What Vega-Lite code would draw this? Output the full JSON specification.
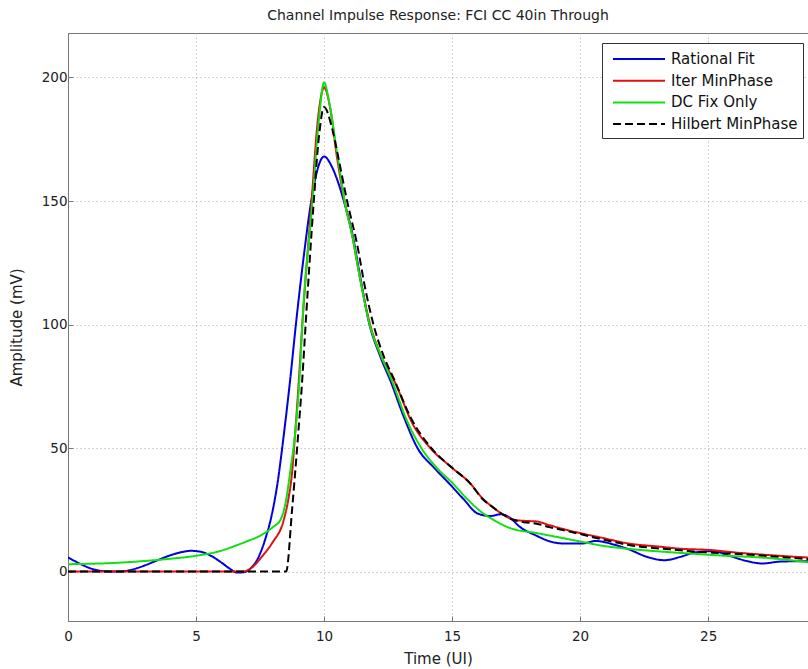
{
  "$schema": "https://vega.github.io/schema/vega-lite/v6.json",
  "width": 740,
  "height": 588,
  "autosize": {"type": "none"},
  "padding": {"left": 68, "top": 33, "right": 0, "bottom": 48},
  "background": "white",
  "title": {
    "text": "Channel Impulse Response: FCI CC 40in Through",
    "font": "DejaVu Sans",
    "fontSize": 14,
    "fontWeight": "normal",
    "color": "#222222",
    "offset": 10,
    "anchor": "middle"
  },
  "config": {
    "view": {"stroke": "#777777", "strokeWidth": 1},
    "axis": {
      "labelFont": "DejaVu Sans",
      "labelFontSize": 13.5,
      "labelColor": "#222222",
      "titleFont": "DejaVu Sans",
      "titleFontSize": 15,
      "titleFontWeight": "normal",
      "titleColor": "#222222",
      "domainColor": "#777777",
      "tickColor": "#777777",
      "gridColor": "#a8a8a8",
      "gridDash": [1, 3],
      "gridOpacity": 1,
      "gridWidth": 1
    }
  },
  "data": {
    "values": [
      {"series": "Rational Fit", "t": 0, "v": 5.8},
      {"series": "Rational Fit", "t": 0.5, "v": 3.0},
      {"series": "Rational Fit", "t": 1.0, "v": 0.9},
      {"series": "Rational Fit", "t": 1.5, "v": 0.1},
      {"series": "Rational Fit", "t": 2.0, "v": 0.0},
      {"series": "Rational Fit", "t": 2.5, "v": 0.8},
      {"series": "Rational Fit", "t": 3.0, "v": 2.5},
      {"series": "Rational Fit", "t": 3.5, "v": 4.6},
      {"series": "Rational Fit", "t": 4.0, "v": 6.6},
      {"series": "Rational Fit", "t": 4.5, "v": 8.0},
      {"series": "Rational Fit", "t": 4.8, "v": 8.4},
      {"series": "Rational Fit", "t": 5.2, "v": 8.0},
      {"series": "Rational Fit", "t": 5.6, "v": 6.3},
      {"series": "Rational Fit", "t": 6.0, "v": 3.6},
      {"series": "Rational Fit", "t": 6.3, "v": 1.3},
      {"series": "Rational Fit", "t": 6.6, "v": -0.4},
      {"series": "Rational Fit", "t": 6.9, "v": -0.2},
      {"series": "Rational Fit", "t": 7.1, "v": 1.0},
      {"series": "Rational Fit", "t": 7.4, "v": 5},
      {"series": "Rational Fit", "t": 7.7, "v": 13},
      {"series": "Rational Fit", "t": 8.0, "v": 25},
      {"series": "Rational Fit", "t": 8.2, "v": 37},
      {"series": "Rational Fit", "t": 8.4, "v": 53},
      {"series": "Rational Fit", "t": 8.68, "v": 78},
      {"series": "Rational Fit", "t": 8.9, "v": 100},
      {"series": "Rational Fit", "t": 9.2, "v": 127},
      {"series": "Rational Fit", "t": 9.5, "v": 150},
      {"series": "Rational Fit", "t": 9.7, "v": 161},
      {"series": "Rational Fit", "t": 10.0, "v": 168},
      {"series": "Rational Fit", "t": 10.3, "v": 164},
      {"series": "Rational Fit", "t": 10.5, "v": 159},
      {"series": "Rational Fit", "t": 10.8, "v": 149},
      {"series": "Rational Fit", "t": 11.1, "v": 137},
      {"series": "Rational Fit", "t": 11.4, "v": 120},
      {"series": "Rational Fit", "t": 11.75, "v": 101},
      {"series": "Rational Fit", "t": 12.2, "v": 87},
      {"series": "Rational Fit", "t": 12.62, "v": 76.5},
      {"series": "Rational Fit", "t": 13.1, "v": 63},
      {"series": "Rational Fit", "t": 13.65, "v": 50},
      {"series": "Rational Fit", "t": 14.3, "v": 42},
      {"series": "Rational Fit", "t": 14.9, "v": 35.5},
      {"series": "Rational Fit", "t": 15.45, "v": 29.3},
      {"series": "Rational Fit", "t": 16.0, "v": 23.5},
      {"series": "Rational Fit", "t": 16.5, "v": 22.5},
      {"series": "Rational Fit", "t": 16.9, "v": 23.2},
      {"series": "Rational Fit", "t": 17.3, "v": 21.5},
      {"series": "Rational Fit", "t": 17.6, "v": 18.5},
      {"series": "Rational Fit", "t": 18.3, "v": 14.5},
      {"series": "Rational Fit", "t": 18.8, "v": 12.3},
      {"series": "Rational Fit", "t": 19.3, "v": 11.4},
      {"series": "Rational Fit", "t": 20.1, "v": 11.4},
      {"series": "Rational Fit", "t": 20.6, "v": 12.4},
      {"series": "Rational Fit", "t": 21.3, "v": 11},
      {"series": "Rational Fit", "t": 21.9, "v": 9},
      {"series": "Rational Fit", "t": 22.6, "v": 6},
      {"series": "Rational Fit", "t": 23.3, "v": 4.6},
      {"series": "Rational Fit", "t": 23.9, "v": 5.9},
      {"series": "Rational Fit", "t": 24.5, "v": 7.8},
      {"series": "Rational Fit", "t": 25.2, "v": 8.3},
      {"series": "Rational Fit", "t": 25.8, "v": 6.5},
      {"series": "Rational Fit", "t": 26.5, "v": 4.3},
      {"series": "Rational Fit", "t": 27.1, "v": 3.3},
      {"series": "Rational Fit", "t": 27.9, "v": 4.1},
      {"series": "Rational Fit", "t": 28.9, "v": 4.2},

      {"series": "Iter MinPhase", "t": 0, "v": 0},
      {"series": "Iter MinPhase", "t": 3, "v": 0},
      {"series": "Iter MinPhase", "t": 6.8, "v": 0},
      {"series": "Iter MinPhase", "t": 7.1, "v": 1.0},
      {"series": "Iter MinPhase", "t": 7.6, "v": 6.4},
      {"series": "Iter MinPhase", "t": 8.0, "v": 12},
      {"series": "Iter MinPhase", "t": 8.4, "v": 20},
      {"series": "Iter MinPhase", "t": 8.6, "v": 29},
      {"series": "Iter MinPhase", "t": 8.75, "v": 40},
      {"series": "Iter MinPhase", "t": 8.85, "v": 53},
      {"series": "Iter MinPhase", "t": 9.0, "v": 75},
      {"series": "Iter MinPhase", "t": 9.15, "v": 100},
      {"series": "Iter MinPhase", "t": 9.5, "v": 148},
      {"series": "Iter MinPhase", "t": 9.75, "v": 182},
      {"series": "Iter MinPhase", "t": 10.0, "v": 196},
      {"series": "Iter MinPhase", "t": 10.25, "v": 187},
      {"series": "Iter MinPhase", "t": 10.5, "v": 168},
      {"series": "Iter MinPhase", "t": 10.8, "v": 150},
      {"series": "Iter MinPhase", "t": 11.1, "v": 136},
      {"series": "Iter MinPhase", "t": 11.4, "v": 119},
      {"series": "Iter MinPhase", "t": 11.8, "v": 100},
      {"series": "Iter MinPhase", "t": 12.2, "v": 88},
      {"series": "Iter MinPhase", "t": 12.75, "v": 77},
      {"series": "Iter MinPhase", "t": 13.5, "v": 59},
      {"series": "Iter MinPhase", "t": 14.15, "v": 50},
      {"series": "Iter MinPhase", "t": 15.0, "v": 42},
      {"series": "Iter MinPhase", "t": 15.68, "v": 36},
      {"series": "Iter MinPhase", "t": 16.2, "v": 29.5},
      {"series": "Iter MinPhase", "t": 16.6, "v": 26},
      {"series": "Iter MinPhase", "t": 17.0, "v": 23},
      {"series": "Iter MinPhase", "t": 17.4, "v": 21},
      {"series": "Iter MinPhase", "t": 17.9, "v": 20.5},
      {"series": "Iter MinPhase", "t": 18.3, "v": 20.3},
      {"series": "Iter MinPhase", "t": 18.8, "v": 18.8},
      {"series": "Iter MinPhase", "t": 19.5, "v": 16.8},
      {"series": "Iter MinPhase", "t": 20.0, "v": 15.6},
      {"series": "Iter MinPhase", "t": 20.8, "v": 13.8},
      {"series": "Iter MinPhase", "t": 22.0, "v": 11.2},
      {"series": "Iter MinPhase", "t": 23.0, "v": 10.2},
      {"series": "Iter MinPhase", "t": 24.0, "v": 9.2},
      {"series": "Iter MinPhase", "t": 25.0, "v": 8.8},
      {"series": "Iter MinPhase", "t": 26.0, "v": 7.8},
      {"series": "Iter MinPhase", "t": 27.2, "v": 6.8},
      {"series": "Iter MinPhase", "t": 28.9, "v": 5.7},

      {"series": "DC Fix Only", "t": 0, "v": 3},
      {"series": "DC Fix Only", "t": 1, "v": 3.2},
      {"series": "DC Fix Only", "t": 2, "v": 3.6},
      {"series": "DC Fix Only", "t": 3, "v": 4.3},
      {"series": "DC Fix Only", "t": 4, "v": 5.2},
      {"series": "DC Fix Only", "t": 5, "v": 6.4},
      {"series": "DC Fix Only", "t": 6, "v": 8.5},
      {"series": "DC Fix Only", "t": 6.6, "v": 10.7},
      {"series": "DC Fix Only", "t": 7.0, "v": 12.3},
      {"series": "DC Fix Only", "t": 7.5, "v": 14.5},
      {"series": "DC Fix Only", "t": 8.0, "v": 18},
      {"series": "DC Fix Only", "t": 8.3, "v": 21},
      {"series": "DC Fix Only", "t": 8.5, "v": 28},
      {"series": "DC Fix Only", "t": 8.7, "v": 42},
      {"series": "DC Fix Only", "t": 8.85, "v": 54},
      {"series": "DC Fix Only", "t": 9.04, "v": 78},
      {"series": "DC Fix Only", "t": 9.15, "v": 100},
      {"series": "DC Fix Only", "t": 9.55, "v": 150},
      {"series": "DC Fix Only", "t": 9.8, "v": 183},
      {"series": "DC Fix Only", "t": 10.0, "v": 198},
      {"series": "DC Fix Only", "t": 10.2, "v": 190},
      {"series": "DC Fix Only", "t": 10.5, "v": 170},
      {"series": "DC Fix Only", "t": 10.67, "v": 158.7},
      {"series": "DC Fix Only", "t": 10.8, "v": 150},
      {"series": "DC Fix Only", "t": 11.1, "v": 136},
      {"series": "DC Fix Only", "t": 11.4, "v": 119},
      {"series": "DC Fix Only", "t": 11.78, "v": 100},
      {"series": "DC Fix Only", "t": 12.2, "v": 88},
      {"series": "DC Fix Only", "t": 12.68, "v": 76.5},
      {"series": "DC Fix Only", "t": 13.2, "v": 62},
      {"series": "DC Fix Only", "t": 13.8, "v": 50},
      {"series": "DC Fix Only", "t": 14.4, "v": 42},
      {"series": "DC Fix Only", "t": 15.0, "v": 36},
      {"series": "DC Fix Only", "t": 15.6, "v": 29.3},
      {"series": "DC Fix Only", "t": 16.1, "v": 24.5},
      {"series": "DC Fix Only", "t": 16.6, "v": 21},
      {"series": "DC Fix Only", "t": 17.3, "v": 17.5},
      {"series": "DC Fix Only", "t": 18.3, "v": 15.6},
      {"series": "DC Fix Only", "t": 19.2, "v": 13.8},
      {"series": "DC Fix Only", "t": 20.0, "v": 12.2},
      {"series": "DC Fix Only", "t": 20.8, "v": 10.6},
      {"series": "DC Fix Only", "t": 22.0, "v": 9.1},
      {"series": "DC Fix Only", "t": 23.3, "v": 8.0},
      {"series": "DC Fix Only", "t": 24.6, "v": 7.1},
      {"series": "DC Fix Only", "t": 25.5, "v": 6.5},
      {"series": "DC Fix Only", "t": 27.2, "v": 5.6},
      {"series": "DC Fix Only", "t": 28.9, "v": 3.8},

      {"series": "Hilbert MinPhase", "t": 0, "v": 0},
      {"series": "Hilbert MinPhase", "t": 4, "v": 0},
      {"series": "Hilbert MinPhase", "t": 8.52, "v": 0},
      {"series": "Hilbert MinPhase", "t": 8.75, "v": 25},
      {"series": "Hilbert MinPhase", "t": 8.97, "v": 53},
      {"series": "Hilbert MinPhase", "t": 9.15, "v": 78},
      {"series": "Hilbert MinPhase", "t": 9.28, "v": 100},
      {"series": "Hilbert MinPhase", "t": 9.6, "v": 150},
      {"series": "Hilbert MinPhase", "t": 9.8, "v": 176},
      {"series": "Hilbert MinPhase", "t": 10.0, "v": 188},
      {"series": "Hilbert MinPhase", "t": 10.3, "v": 180},
      {"series": "Hilbert MinPhase", "t": 10.55, "v": 168},
      {"series": "Hilbert MinPhase", "t": 10.9, "v": 150},
      {"series": "Hilbert MinPhase", "t": 11.3, "v": 132},
      {"series": "Hilbert MinPhase", "t": 11.6, "v": 115},
      {"series": "Hilbert MinPhase", "t": 11.93, "v": 100},
      {"series": "Hilbert MinPhase", "t": 12.3, "v": 88},
      {"series": "Hilbert MinPhase", "t": 12.75, "v": 77.5},
      {"series": "Hilbert MinPhase", "t": 13.4, "v": 62},
      {"series": "Hilbert MinPhase", "t": 14.19, "v": 50},
      {"series": "Hilbert MinPhase", "t": 15.0, "v": 42},
      {"series": "Hilbert MinPhase", "t": 15.68, "v": 36},
      {"series": "Hilbert MinPhase", "t": 16.2, "v": 29.3},
      {"series": "Hilbert MinPhase", "t": 16.6, "v": 26},
      {"series": "Hilbert MinPhase", "t": 17.0, "v": 23},
      {"series": "Hilbert MinPhase", "t": 17.3, "v": 21.3},
      {"series": "Hilbert MinPhase", "t": 17.8, "v": 20},
      {"series": "Hilbert MinPhase", "t": 18.3, "v": 19.4},
      {"series": "Hilbert MinPhase", "t": 18.8, "v": 18},
      {"series": "Hilbert MinPhase", "t": 19.5, "v": 16.4},
      {"series": "Hilbert MinPhase", "t": 20.0, "v": 15.2},
      {"series": "Hilbert MinPhase", "t": 20.8, "v": 13.2},
      {"series": "Hilbert MinPhase", "t": 22.0, "v": 10.6},
      {"series": "Hilbert MinPhase", "t": 23.5, "v": 9},
      {"series": "Hilbert MinPhase", "t": 24.6, "v": 8},
      {"series": "Hilbert MinPhase", "t": 25.5, "v": 7.5},
      {"series": "Hilbert MinPhase", "t": 27.2, "v": 6.4},
      {"series": "Hilbert MinPhase", "t": 28.9, "v": 5.0}
    ]
  },
  "encoding": {
    "x": {
      "field": "t",
      "type": "quantitative",
      "scale": {"domain": [0, 28.9], "nice": false, "zero": false},
      "axis": {
        "values": [0, 5, 10, 15, 20, 25],
        "title": "Time (UI)",
        "tickSize": -5,
        "labelPadding": 13,
        "titlePadding": 9,
        "labelFlush": false
      }
    },
    "y": {
      "field": "v",
      "type": "quantitative",
      "scale": {"domain": [-20, 218], "nice": false, "zero": false},
      "axis": {
        "values": [0, 50, 100, 150, 200],
        "title": "Amplitude (mV)",
        "tickSize": -5,
        "labelPadding": 6,
        "titlePadding": 17
      }
    },
    "color": {
      "field": "series",
      "type": "nominal",
      "scale": {
        "domain": ["Rational Fit", "Iter MinPhase", "DC Fix Only", "Hilbert MinPhase"],
        "range": ["#0000dc", "#e01010", "#10e010", "#000000"]
      },
      "legend": {
        "title": null,
        "orient": "none",
        "legendX": 534,
        "legendY": 10,
        "symbolType": "M-2.6,0H2.6",
        "symbolSize": 400,
        "symbolStrokeWidth": 2,
        "symbolOffset": 21,
        "labelOffset": 21,
        "labelFont": "DejaVu Sans",
        "labelFontSize": 15,
        "labelColor": "#111111",
        "labelLimit": 300,
        "rowPadding": 2.7,
        "padding": 5,
        "strokeColor": "#333333",
        "fillColor": "white",
        "cornerRadius": 0
      }
    },
    "strokeDash": {
      "field": "series",
      "type": "nominal",
      "scale": {
        "domain": ["Rational Fit", "Iter MinPhase", "DC Fix Only", "Hilbert MinPhase"],
        "range": [[1, 0], [1, 0], [1, 0], [8, 4]]
      },
      "legend": {
        "title": null,
        "orient": "none",
        "legendX": 534,
        "legendY": 10,
        "symbolType": "M-2.6,0H2.6",
        "symbolSize": 400,
        "symbolStrokeWidth": 2,
        "symbolOffset": 21,
        "labelOffset": 21,
        "labelFont": "DejaVu Sans",
        "labelFontSize": 15,
        "labelColor": "#111111",
        "labelLimit": 300,
        "rowPadding": 2.7,
        "padding": 5,
        "strokeColor": "#333333",
        "fillColor": "white",
        "cornerRadius": 0
      }
    }
  },
  "layer": [
    {
      "transform": [{"filter": "datum.series === 'Rational Fit'"}],
      "mark": {"type": "line", "interpolate": "monotone", "strokeWidth": 2, "clip": true}
    },
    {
      "transform": [{"filter": "datum.series === 'Iter MinPhase'"}],
      "mark": {"type": "line", "interpolate": "monotone", "strokeWidth": 2, "clip": true}
    },
    {
      "transform": [{"filter": "datum.series === 'DC Fix Only'"}],
      "mark": {"type": "line", "interpolate": "monotone", "strokeWidth": 2, "clip": true}
    },
    {
      "transform": [{"filter": "datum.series === 'Hilbert MinPhase'"}],
      "mark": {"type": "line", "interpolate": "monotone", "strokeWidth": 2, "clip": true}
    }
  ]
}
